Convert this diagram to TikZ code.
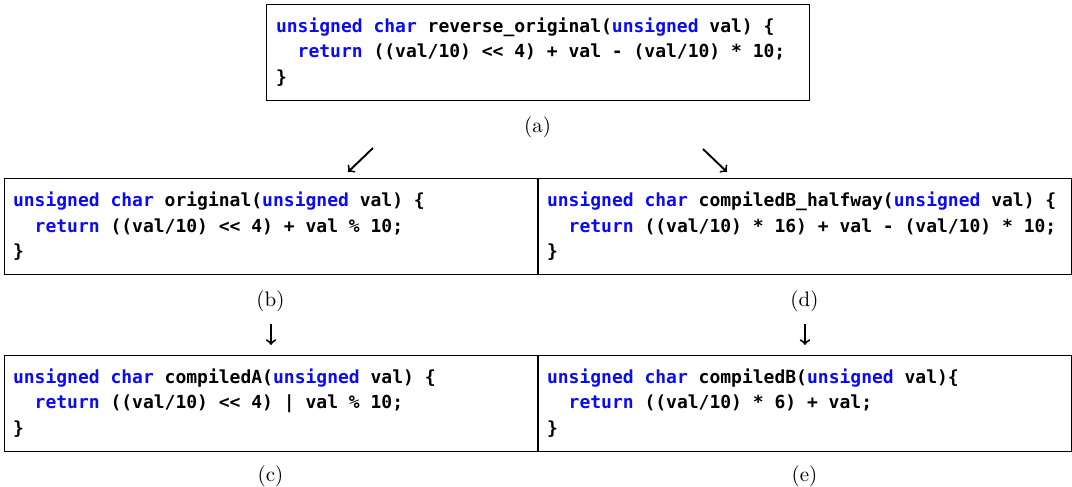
\documentclass[tikz,border=0pt]{standalone}
\usepackage{fontspec}
\setmonofont{DejaVu Sans Mono}
\usepackage{xcolor}
\usepackage{tikz}
\usetikzlibrary{arrows}
\usetikzlibrary{positioning}
\definecolor{kwblue}{RGB}{10, 10, 245}
\newcommand{\mKw}[1]{\textcolor{kwblue}{#1}}
% one code line, with full-width spaces
\newcommand{\mLine}[1]{\mbox{\spaceskip=0pt\xspaceskip=0pt #1}}
\newcommand{\mIndent}{\phantom{xx}}
\newcommand{\mUns}{\mKw{unsigned}}
\newcommand{\mChar}{\mKw{char}}
\newcommand{\mRet}{\mKw{return}}
\newcommand{\mCodeFont}{\ttfamily\bfseries\fontsize{9}{12.75}\selectfont}

\begin{document}
\begin{tikzpicture}[%
    >=to,                 % plain arrows
    ]
% -------------------------------------------------
% Box styles
\tikzset{
  base/.style={draw, line width=0.5pt, rectangle, align=left, inner ysep=0pt},
  code/.style={base, minimum height=48pt, font=\mCodeFont},
  codetop/.style={code, inner xsep=5pt, minimum width=271.5pt, text width=261.5pt},
  codelow/.style={code, inner xsep=4.5pt, minimum width=266.5pt, text width=257.5pt},
  capt/.style={inner sep=0pt, font=\fontsize{10.5}{12}\selectfont},
  norm/.style={->, draw, black, line width=0.95pt}
  }
\useasboundingbox (0,0) rectangle (536pt,-243.5pt);
% -------------------------------------------------
% The code boxes
\node [codetop] (a) at (268.75pt,-26pt) {%
\mLine{\mUns{} \mChar{} reverse\_original(\mUns{} val) \{}\\
\mLine{\mIndent\mRet{} ((val/10) << 4) + val - (val/10) * 10;}\\
\}};
\node [capt, below=8pt of a] (ca) {(a)};

\node [codelow, anchor=north east] (b) at ([yshift=-38.65pt] a.south) {%
\mLine{\mUns{} \mChar{} original(\mUns{} val) \{}\\
\mLine{\mIndent\mRet{} ((val/10) << 4) + val \% 10;}\\
\}};
\node [capt, below=8pt of b] (cb) {(b)};

\node [codelow, right=0pt of b] (d) {%
\mLine{\mUns{} \mChar{} compiledB\_halfway(\mUns{} val) \{}\\
\mLine{\mIndent\mRet{} ((val/10) * 16) + val - (val/10) * 10;}\\
\}};
\node [capt, below=8pt of d] (cd) {(d)};

\node [codelow, below=39.85pt of b] (c) {%
\mLine{\mUns{} \mChar{} compiledA(\mUns{} val) \{}\\
\mLine{\mIndent\mRet{} ((val/10) << 4) | val \% 10;}\\
\}};
\node [capt, below=7pt of c] (cc) {(c)};

\node [codelow, right=0pt of c] (e) {%
\mLine{\mUns{} \mChar{} compiledB(\mUns{} val)\{}\\
\mLine{\mIndent\mRet{} ((val/10) * 6) + val;}\\
\}};
\node [capt, below=7pt of e] (ce) {(e)};

% -------------------------------------------------
% Arrows between the steps
\coordinate (s1) at (186.5pt,-74pt);
\coordinate (t1) at (174pt,-86pt);
\coordinate (s2) at (351.5pt,-74.5pt);
\coordinate (t2) at (363.5pt,-86pt);
\coordinate (s3) at (135.5pt,-162pt);
\coordinate (t3) at (135.5pt,-172.5pt);
\coordinate (s4) at (402.5pt,-162pt);
\coordinate (t4) at (402.5pt,-172.5pt);
\draw [norm] (s1) -- (t1);
\draw [norm] (s2) -- (t2);
\draw [norm] (s3) -- (t3);
\draw [norm] (s4) -- (t4);
\end{tikzpicture}
\end{document}
